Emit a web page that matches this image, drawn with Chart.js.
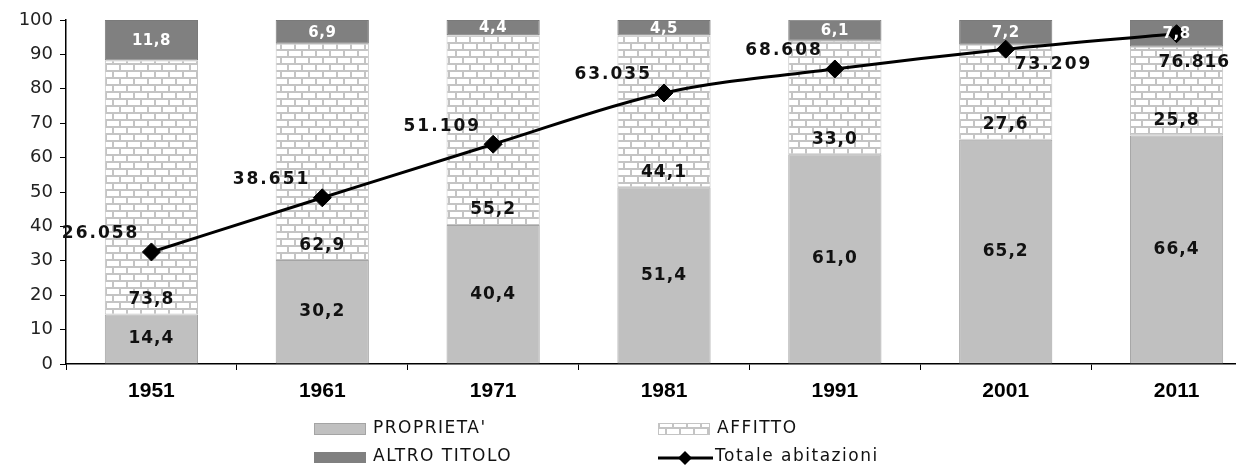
<!DOCTYPE html>
<html>
<head>
<meta charset="utf-8">
<script src="https://cdn.jsdelivr.net/npm/chart.js@4/dist/chart.umd.min.js"></script>
<style>
  html, body { margin: 0; padding: 0; background: #fff; overflow: hidden; }
  #wrap { width: 1236px; height: 465px; overflow: hidden; position: relative; }
  #wrap canvas { display: block; }
</style>
</head>
<body>
<div id="wrap"><canvas id="c" width="1272" height="465"></canvas></div>
<script>
// Census years and housing tenure shares (%)
const years = ['1951', '1961', '1971', '1981', '1991', '2001', '2011'];
const proprieta = [14.4, 30.2, 40.4, 51.4, 61.0, 65.2, 66.4];
const affitto = [73.8, 62.9, 55.2, 44.1, 33.0, 27.6, 25.8];
const altroTitolo = [11.8, 6.9, 4.4, 4.5, 6.1, 7.2, 7.8];
// Total dwellings
const totaleAbitazioni = [26058, 38651, 51109, 63035, 68608, 73209, 76816];
// Percentage axis ticks
const percentTicks = [0, 10, 20, 30, 40, 50, 60, 70, 80, 90, 100];

const fmtPct = v => v.toFixed(1).replace('.', ',');
const fmtThousands = v => {
  const s = String(Math.round(v));
  return s.replace(/\B(?=(\d{3})+(?!\d))/g, '.');
};

const canvas = document.getElementById('c');
const ctx = canvas.getContext('2d');

// Horizontal brick fill used for the rented share
function brickPattern() {
  const p = document.createElement('canvas');
  p.width = 28; p.height = 14;
  const g = p.getContext('2d');
  g.fillStyle = '#ffffff';
  g.fillRect(0, 0, 28, 14);
  g.fillStyle = '#c4c4c4';
  g.fillRect(0, 0, 28, 2);
  g.fillRect(0, 7, 28, 2);
  g.fillRect(0, 0, 2, 7);
  g.fillRect(14, 0, 2, 7);
  g.fillRect(7, 7, 2, 7);
  g.fillRect(21, 7, 2, 7);
  return ctx.createPattern(p, 'repeat');
}
const bricks = brickPattern();

function drawText(c, text, x, y, font, color, spacing, align) {
  c.font = font;
  c.fillStyle = color;
  c.textAlign = align || 'center';
  c.textBaseline = 'middle';
  if ('letterSpacing' in c) c.letterSpacing = (spacing || 0) + 'px';
  c.fillText(text, x, y);
  if ('letterSpacing' in c) c.letterSpacing = '0px';
}

// Value labels on bar segments and on the total line
const valueLabels = {
  id: 'valueLabels',
  afterDatasetsDraw(chart, args, opts) {
    const c = chart.ctx;
    c.save();
    const bold = 'bold 17px "DejaVu Sans"';
    chart.getDatasetMeta(0).data.forEach((el, i) => {
      drawText(c, fmtPct(proprieta[i]), el.x, (el.y + el.base) / 2, bold, '#111', 1);
    });
    chart.getDatasetMeta(1).data.forEach((el, i) => {
      drawText(c, fmtPct(affitto[i]), el.x, el.base - 15, bold, '#111', 1);
    });
    chart.getDatasetMeta(2).data.forEach((el, i) => {
      drawText(c, fmtPct(altroTitolo[i]), el.x, (el.y + el.base) / 2 + 1,
        'bold 15px "DejaVu Sans"', '#ffffff', 0.5);
    });
    chart.getDatasetMeta(3).data.forEach((el, i) => {
      const side = opts.totalSide[i];
      const t = fmtThousands(totaleAbitazioni[i]);
      const f = 'bold 17px "DejaVu Sans"';
      if (side === 'nw') drawText(c, t, el.x - 12, el.y - 18, f, '#111', 2, 'right');
      else if (side === 'se') drawText(c, t, el.x + 9, el.y + 15, f, '#111', 2, 'left');
      else drawText(c, t, el.x - 18, el.y + 29, f, '#111', 1, 'left');
    });
    c.restore();
  }
};

// Two-column legend under the axis
const gridLegend = {
  id: 'gridLegend',
  afterDraw(chart) {
    const c = chart.ctx;
    const ds = chart.data.datasets;
    c.save();
    const font = '17px "DejaVu Sans"';
    // PROPRIETA'
    c.fillStyle = '#c0c0c0';
    c.fillRect(314, 423, 52, 12);
    c.strokeStyle = '#a4a4a4'; c.lineWidth = 1;
    c.strokeRect(314.5, 423.5, 51, 11);
    drawText(c, ds[0].label, 373, 429, font, '#111', 1.5, 'left');
    // AFFITTO
    c.fillStyle = bricks;
    c.fillRect(658, 423, 52, 12);
    c.strokeStyle = '#c4c4c4';
    c.strokeRect(658.5, 423.5, 51, 11);
    drawText(c, ds[1].label, 717, 429, font, '#111', 1.5, 'left');
    // ALTRO TITOLO
    c.fillStyle = '#808080';
    c.fillRect(314, 452, 52, 11);
    drawText(c, ds[2].label, 373, 457, font, '#111', 1.5, 'left');
    // Totale abitazioni
    c.strokeStyle = '#000'; c.lineWidth = 3;
    c.beginPath(); c.moveTo(658, 458); c.lineTo(713, 458); c.stroke();
    c.fillStyle = '#000';
    c.beginPath();
    c.moveTo(685, 451); c.lineTo(692, 458); c.lineTo(685, 465); c.lineTo(678, 458);
    c.closePath(); c.fill();
    drawText(c, ds[3].label, 715, 457, font, '#111', 1.5, 'left');
    c.restore();
  }
};

new Chart(ctx, {
  type: 'bar',
  data: {
    labels: years,
    datasets: [
      { label: "PROPRIETA'", data: proprieta, backgroundColor: '#c0c0c0',
        borderColor: '#a4a4a4', borderWidth: 1, borderSkipped: false, order: 1 },
      { label: 'AFFITTO', data: affitto, backgroundColor: bricks,
        borderColor: '#c4c4c4', borderWidth: 1, borderSkipped: false, order: 1 },
      { label: 'ALTRO TITOLO', data: altroTitolo, backgroundColor: '#808080',
        borderColor: '#7a7a7a', borderWidth: 1, borderSkipped: false, order: 1 },
      { type: 'line', label: 'Totale abitazioni', data: totaleAbitazioni, yAxisID: 'y1',
        borderColor: '#000', borderWidth: 3, pointStyle: 'rectRot', pointRadius: 9,
        pointBackgroundColor: '#000', pointBorderColor: '#000', pointBorderWidth: 1,
        cubicInterpolationMode: 'monotone', order: 0 }
    ]
  },
  options: {
    responsive: false,
    animation: false,
    devicePixelRatio: 1,
    layout: { padding: { top: 20, left: 0, right: 0, bottom: 0 } },
    datasets: { bar: { barPercentage: 0.5455, categoryPercentage: 1 } },
    plugins: {
      legend: { display: false },
      tooltip: { enabled: false },
      valueLabels: { totalSide: ['nw', 'nw', 'nw', 'nw', 'nw', 'se', 's'] }
    },
    scales: {
      x: {
        stacked: true,
        afterFit: s => { s.height = 101; },
        border: { color: '#000', width: 1.5 },
        grid: { drawOnChartArea: false, drawTicks: true, tickLength: 6, tickColor: '#000', offset: true },
        ticks: { color: '#000', padding: 9, font: { family: '"Liberation Sans Narrow", "Liberation Sans"', weight: 'bold', size: 21 } }
      },
      y: {
        stacked: true,
        min: 0, max: 100,
        afterFit: s => { s.width = 66; },
        afterBuildTicks: s => { s.ticks = percentTicks.map(v => ({ value: v })); },
        border: { color: '#000', width: 1.5 },
        grid: { drawOnChartArea: false, drawTicks: true, tickLength: 6, tickColor: '#000' },
        ticks: { color: '#222', padding: 7, font: { family: '"DejaVu Sans"', size: 18 } }
      },
      y1: { display: false, min: 0, max: 80000 }
    }
  },
  plugins: [valueLabels, gridLegend]
});
</script>
</body>
</html>
